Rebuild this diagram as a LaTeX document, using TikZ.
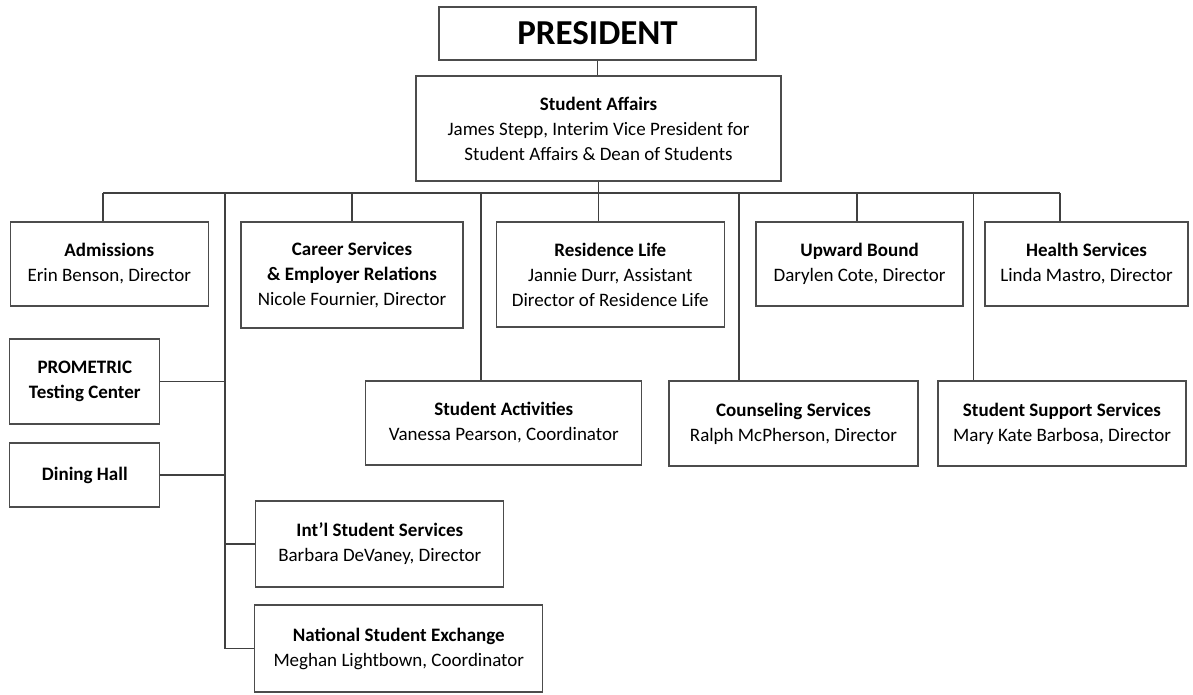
\documentclass[tikz,border=0pt]{standalone}
\usepackage{fontspec}
\setmainfont{Carlito}

\begin{document}
\begin{tikzpicture}[x=1pt,y=-1pt,
  unit/.style={draw=black!70,line width=1.1pt,align=center,inner sep=0pt,font=\fontsize{19}{25}\selectfont},
  link/.style={draw=black!75,line width=1.1pt}]%
\useasboundingbox (0,0) rectangle (1193,694);
% head boxes
\node[unit,minimum width=317pt,minimum height=53pt,font=\fontsize{35}{38}\selectfont\bfseries] (pres) at (597.5,33.5) {PRESIDENT};%
\node[unit,minimum width=365pt,minimum height=105pt] (sa) at (598.5,128.5) {\textbf{Student Affairs}\\James Stepp, Interim Vice President for\\Student Affairs \& Dean of Students};%
% first row
\node[unit,minimum width=198pt,minimum height=84pt] (adm) at (109.3,264) {\textbf{Admissions}\\Erin Benson, Director};%
\node[unit,minimum width=222pt,minimum height=106pt] (car) at (352,275) {\textbf{Career Services}\\\textbf{\& Employer Relations}\\Nicole Fournier, Director};%
\node[unit,minimum width=228pt,minimum height=105pt] (res) at (610.3,274.5) {\textbf{Residence Life}\\Jannie Durr, Assistant\\Director of Residence Life};%
\node[unit,minimum width=207pt,minimum height=84pt] (upw) at (859.5,264) {\textbf{Upward Bound}\\Darylen Cote, Director};%
\node[unit,minimum width=203pt,minimum height=84pt] (hea) at (1086.5,264) {\textbf{Health Services}\\Linda Mastro, Director};%
% second row
\node[unit,minimum width=276pt,minimum height=84pt] (act) at (503.8,423) {\textbf{Student Activities}\\Vanessa Pearson, Coordinator};%
\node[unit,minimum width=249pt,minimum height=85pt] (cou) at (793.5,423.5) {\textbf{Counseling Services}\\Ralph McPherson, Director};%
\node[unit,minimum width=248pt,minimum height=85pt] (sss) at (1062,423.5) {\textbf{Student Support Services}\\Mary Kate Barbosa, Director};%
% left column
\node[unit,minimum width=150pt,minimum height=85pt] (pro) at (84.8,381.5) {\textbf{PROMETRIC}\\\textbf{Testing Center}};%
\node[unit,minimum width=150pt,minimum height=64pt] (din) at (84.8,475) {\textbf{Dining Hall}};%
\node[unit,minimum width=248pt,minimum height=86pt] (intl) at (379.8,544) {\textbf{Int’l Student Services}\\Barbara DeVaney, Director};%
\node[unit,minimum width=288pt,minimum height=87pt] (nse) at (398.8,648.5) {\textbf{National Student Exchange}\\Meghan Lightbown, Coordinator};%
% spine and bus
\coordinate (bus) at (598.5,193);%
\coordinate (busl) at (103,193);%
\coordinate (busr) at (1060,193);%
\draw[link] (pres.south) -- (pres.south |- sa.north);%
\draw[link] (sa.south) -- (bus);%
\draw[link] (busl) -- (busr);%
\foreach \x/\n in {103/adm,352/car,598.5/res,857/upw,1060/hea,481/act,739/cou,973.5/sss}{%
  \coordinate (d\n) at (\x,193);%
  \draw[link] (d\n) -- (d\n |- \n.north);}%
% side branch
\coordinate (dcol) at (225,193);%
\draw[link] (dcol) |- (nse.west);%
\foreach \n in {pro,din} \draw[link] (\n.east) -- (\n.east -| dcol);%
\draw[link] (intl.west) -- (intl.west -| dcol);%
\end{tikzpicture}
\end{document}
